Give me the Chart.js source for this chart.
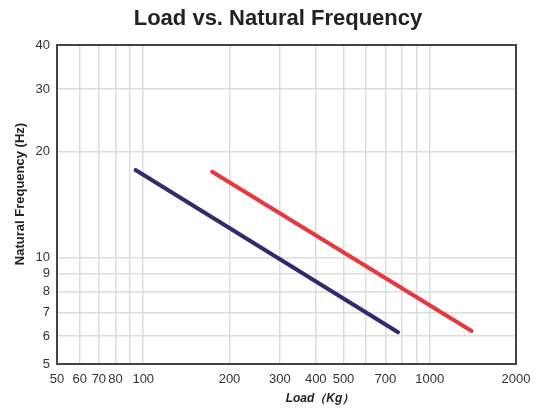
<!DOCTYPE html>
<html>
<head>
<meta charset="utf-8">
<script src="https://cdn.jsdelivr.net/npm/chart.js@4.4.1/dist/chart.umd.min.js"></script>
<style>
  html, body { margin: 0; padding: 0; background: #fff; }
  #wrap { width: 536px; height: 408px; position: relative; }
</style>
</head>
<body>
<div id="wrap"><canvas id="freqChart"></canvas></div>
<script>
// dati (scala log-log)
const loadBlue = [94, 775];
const freqBlue = [17.7, 6.15];
const loadRed = [174, 1400];
const freqRed = [17.5, 6.2];

const xGrid = [50, 60, 70, 80, 90, 100, 200, 300, 400, 500, 600, 700, 800, 900, 1000, 2000];
const xLabels = [50, 60, 70, 80, 100, 200, 300, 400, 500, 700, 1000, 2000];
const yGrid = [5, 6, 7, 8, 9, 10, 20, 30, 40];
const yLabels = [5, 6, 7, 8, 9, 10, 20, 30, 40];

const toPoints = (xs, ys) => xs.map((x, i) => ({ x: x, y: ys[i] }));

// titoli e cornice disegnati a mano
const frame = {
    id: 'frame',
    afterDraw(chart) {
        const ctx = chart.ctx;
        const a = chart.chartArea;
        ctx.save();
        ctx.strokeStyle = '#444';
        ctx.lineWidth = 2;
        ctx.strokeRect(a.left, a.top, a.right - a.left, a.bottom - a.top);

        ctx.fillStyle = '#222';
        ctx.textAlign = 'center';
        ctx.textBaseline = 'middle';
        ctx.font = 'bold 22px "Liberation Sans", Arial, sans-serif';
        ctx.fillText('Load vs. Natural Frequency', 278, 19);

        ctx.font = 'italic bold 12px "Liberation Sans", Arial, sans-serif';
        ctx.fillText('Load（Kg）', 320, 399);

        ctx.translate(20, 194);
        ctx.rotate(-Math.PI / 2);
        ctx.font = 'bold 13px "Liberation Sans", Arial, sans-serif';
        ctx.fillText('Natural Frequency (Hz)', 0, 0);
        ctx.restore();
    }
};

new Chart(document.getElementById('freqChart'), {
    type: 'line',
    data: {
        datasets: [
            {
                data: toPoints(loadBlue, freqBlue),
                borderColor: '#2f2b6e',
                borderWidth: 4,
                pointRadius: 0,
                borderCapStyle: 'round'
            },
            {
                data: toPoints(loadRed, freqRed),
                borderColor: '#e8383f',
                borderWidth: 4,
                pointRadius: 0,
                borderCapStyle: 'round'
            }
        ]
    },
    options: {
        responsive: true,
        maintainAspectRatio: false,
        animation: false,
        layout: { padding: { left: 0, right: 20, top: 45, bottom: 0 } },
        plugins: {
            legend: { display: false },
            tooltip: { enabled: false }
        },
        scales: {
            x: {
                type: 'logarithmic',
                min: 50,
                max: 2000,
                afterBuildTicks: (s) => { s.ticks = xGrid.map(v => ({ value: v })); },
                afterFit: (s) => { s.height = 44; s.paddingLeft = 0; s.paddingRight = 0; },
                grid: { color: '#dcdcdc', lineWidth: 1.5, drawTicks: false },
                border: { display: false },
                ticks: {
                    autoSkip: false,
                    maxRotation: 0,
                    padding: 8,
                    color: '#333',
                    font: { family: '"Liberation Sans", Arial, sans-serif', size: 13 },
                    callback: (v) => xLabels.includes(v) ? String(v) : ''
                }
            },
            y: {
                type: 'logarithmic',
                min: 5,
                max: 40,
                afterBuildTicks: (s) => { s.ticks = yGrid.map(v => ({ value: v })); },
                afterFit: (s) => { s.width = 57; s.paddingTop = 0; s.paddingBottom = 0; },
                grid: { color: '#dcdcdc', lineWidth: 1.5, drawTicks: false },
                border: { display: false },
                ticks: {
                    autoSkip: false,
                    padding: 7,
                    color: '#333',
                    font: { family: '"Liberation Sans", Arial, sans-serif', size: 13 },
                    callback: (v) => yLabels.includes(v) ? String(v) : ''
                }
            }
        }
    },
    plugins: [frame]
});
</script>
</body>
</html>
